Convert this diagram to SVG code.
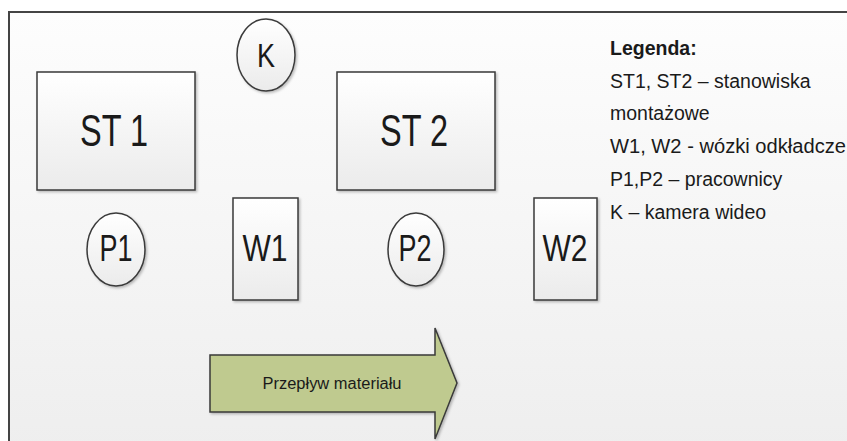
<svg xmlns="http://www.w3.org/2000/svg" width="847" height="441" viewBox="0 0 847 441">
  <defs>
    <linearGradient id="bg" x1="0" y1="0" x2="0" y2="1">
      <stop offset="0" stop-color="#fdfdfd"/>
      <stop offset="1" stop-color="#eeeeee"/>
    </linearGradient>
    <linearGradient id="boxFill" x1="0" y1="0" x2="0" y2="1">
      <stop offset="0" stop-color="#ffffff"/>
      <stop offset="1" stop-color="#ebebeb"/>
    </linearGradient>
    <filter id="shadow" x="-10%" y="-10%" width="130%" height="130%">
      <feDropShadow dx="1.5" dy="1.5" stdDeviation="1" flood-color="#000" flood-opacity="0.25"/>
    </filter>
  </defs>
  <style>
    .shape { fill: url(#boxFill); stroke: #3a3a3a; stroke-width: 1.5; filter: url(#shadow); }
    .lbl { font-family: "Liberation Sans", Arial, sans-serif; fill: #1a1a1a; text-anchor: middle; }
    .big { font-size: 45px; }
    .mid { font-size: 36px; }
    .legend { font-family: "Liberation Sans", Arial, sans-serif; font-size: 19.5px; fill: #1a1a1a; }
    .flow { fill: #bfca8f; stroke: #3a3a3a; stroke-width: 1.5; filter: url(#shadow); }
  </style>

  <rect x="0" y="0" width="847" height="441" fill="#ffffff"/>
  <!-- frame of the work area -->
  <rect x="9" y="12" width="850" height="440" fill="url(#bg)" stroke="#444444" stroke-width="2"/>

  <g id="ST1">
    <rect class="shape" x="37" y="72" width="158" height="118"/>
    <text class="lbl big" x="114" y="146" textLength="68" lengthAdjust="spacingAndGlyphs">ST 1</text>
  </g>
  <g id="ST2">
    <rect class="shape" x="337" y="72" width="158" height="118"/>
    <text class="lbl big" x="414" y="146" textLength="68" lengthAdjust="spacingAndGlyphs">ST 2</text>
  </g>
  <g id="K">
    <ellipse class="shape" cx="266" cy="55" rx="29" ry="36"/>
    <text class="lbl" x="266" y="67" font-size="33" textLength="18" lengthAdjust="spacingAndGlyphs">K</text>
  </g>
  <g id="P1">
    <ellipse class="shape" cx="116" cy="249.5" rx="29" ry="36.5"/>
    <text class="lbl mid" x="116" y="261" textLength="33" lengthAdjust="spacingAndGlyphs">P1</text>
  </g>
  <g id="W1">
    <rect class="shape" x="233" y="198" width="65" height="102"/>
    <text class="lbl mid" x="265" y="261" textLength="45" lengthAdjust="spacingAndGlyphs">W1</text>
  </g>
  <g id="P2">
    <ellipse class="shape" cx="416" cy="249.5" rx="28" ry="36.5"/>
    <text class="lbl mid" x="415" y="261" textLength="33" lengthAdjust="spacingAndGlyphs">P2</text>
  </g>
  <g id="W2">
    <rect class="shape" x="534" y="198" width="63" height="102"/>
    <text class="lbl mid" x="565" y="261" textLength="45" lengthAdjust="spacingAndGlyphs">W2</text>
  </g>

  <g id="flow-arrow">
    <polygon class="flow" points="210,355 435,355 435,328 457,383 435,439 435,412 210,412"/>
    <text class="lbl" x="332" y="389" font-size="16" textLength="139" lengthAdjust="spacingAndGlyphs">Przepływ materiału</text>
  </g>

  <g id="legend" class="legend">
    <text x="610" y="55" font-weight="bold">Legenda:</text>
    <text x="610" y="88">ST1, ST2 – stanowiska</text>
    <text x="610" y="120">montażowe</text>
    <text x="610" y="153" textLength="236" lengthAdjust="spacingAndGlyphs">W1, W2 - wózki odkładcze</text>
    <text x="610" y="186">P1,P2 – pracownicy</text>
    <text x="610" y="219">K – kamera wideo</text>
  </g>

  <g id="connectors"></g>
</svg>
